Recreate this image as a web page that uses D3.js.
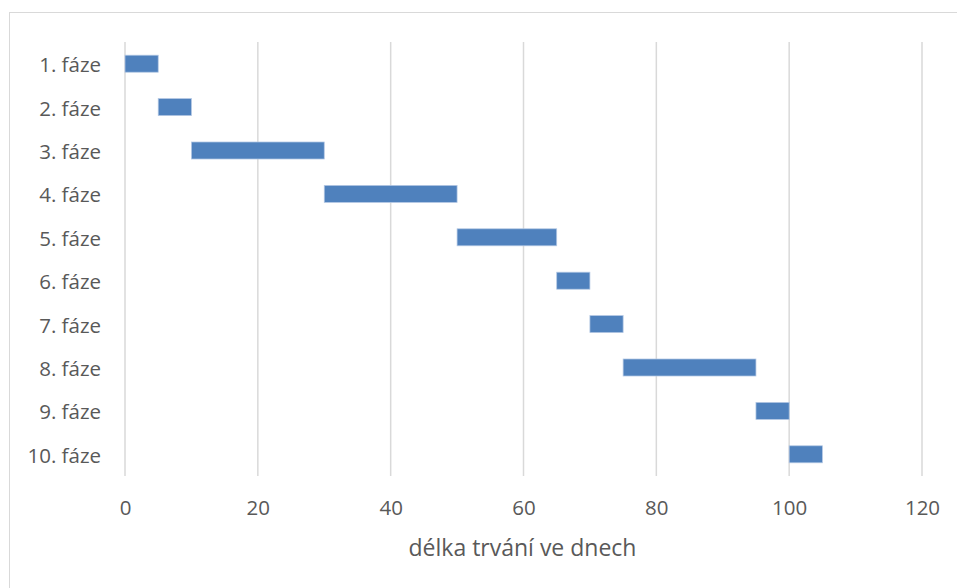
<!DOCTYPE html>
<html lang="cs">
<head>
<meta charset="utf-8">
<script src="https://cdn.jsdelivr.net/npm/d3@7"></script>
<style>
  html, body { margin: 0; padding: 0; background: #fff; }
  svg { display: block; }
  text { font-family: "Open Sans", "Liberation Sans", sans-serif; fill: #595959; }
</style>
</head>
<body>
<svg id="chart" width="957" height="588"></svg>
<script>
// Project phases, their start day and duration in days
const phases = ["1. fáze", "2. fáze", "3. fáze", "4. fáze", "5. fáze",
                "6. fáze", "7. fáze", "8. fáze", "9. fáze", "10. fáze"];
const starts = [0, 5, 10, 30, 50, 65, 70, 75, 95, 100];
const durations = [5, 5, 20, 20, 15, 5, 5, 20, 5, 5];
const xTicks = [0, 20, 40, 60, 80, 100, 120];
const xTitle = "délka trvání ve dnech";

const rows = phases.map((p, i) => ({ phase: p, start: starts[i], duration: durations[i] }));

const svg = d3.select("#chart");
const W = 957, H = 588;
const plot = { left: 125, right: 922, top: 42, bottom: 476 };

// chart area frame
svg.append("rect")
  .attr("x", 9.5).attr("y", 12.5)
  .attr("width", W + 10).attr("height", H + 10)
  .attr("fill", "#fff").attr("stroke", "#d9d9d9").attr("stroke-width", 1);

const x = d3.scaleLinear().domain([0, 120]).range([plot.left, plot.right]);
const y = d3.scaleBand().domain(phases)
  .range([plot.top, plot.bottom])
  .paddingInner(0.608).paddingOuter(0.304);

// vertical gridlines
svg.append("g").selectAll("line").data(xTicks).join("line")
  .attr("x1", d => x(d)).attr("x2", d => x(d))
  .attr("y1", plot.top).attr("y2", plot.bottom)
  .attr("stroke", "#d9d9d9").attr("stroke-width", 1.5);

// x axis labels
const xAxis = d3.axisBottom(x).tickValues(xTicks).tickSize(0).tickPadding(0);
const gx = svg.append("g").attr("transform", `translate(0,${plot.bottom})`).call(xAxis);
gx.select(".domain").remove();
gx.selectAll("text")
  .attr("dy", null).attr("y", 39)
  .style("font-size", "20.5px")
  .attr("fill", "#595959");

// y axis labels
const yAxis = d3.axisLeft(y).tickSize(0).tickPadding(0);
const gy = svg.append("g").attr("transform", `translate(${plot.left - 24},0)`).call(yAxis);
gy.select(".domain").remove();
gy.selectAll("text")
  .attr("dy", "0.41em").attr("x", 0)
  .style("font-size", "20.5px")
  .attr("fill", "#595959");

// phase bars
svg.append("g").selectAll("rect").data(rows).join("rect")
  .attr("x", d => x(d.start))
  .attr("y", d => y(d.phase))
  .attr("width", d => x(d.start + d.duration) - x(d.start))
  .attr("height", y.bandwidth())
  .attr("fill", "#4f81bd")
  .attr("stroke", "#b4c8e4").attr("stroke-width", 0.75);

// axis title
svg.append("text")
  .attr("x", (plot.left + plot.right) / 2 - 1).attr("y", 556)
  .attr("text-anchor", "middle")
  .style("font-size", "23px")
  .text(xTitle);
</script>
</body>
</html>
